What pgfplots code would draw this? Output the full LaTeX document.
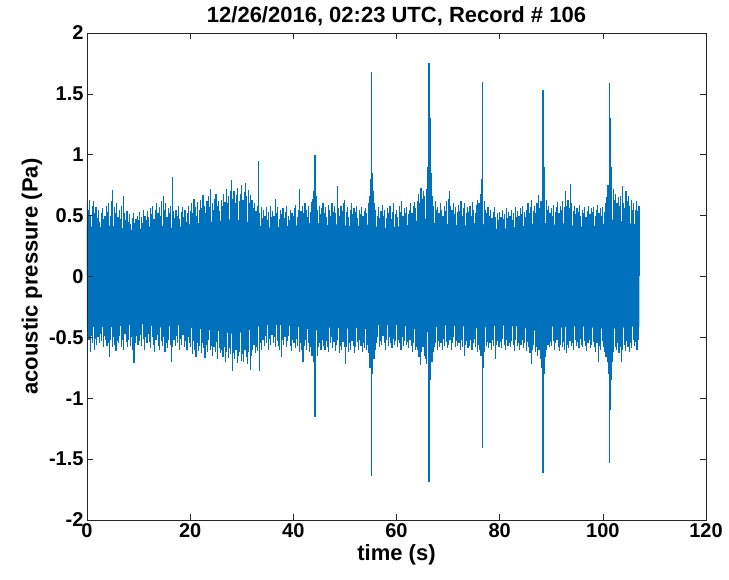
\documentclass[border=0pt]{standalone}
\usepackage{pgfplots}
\pgfplotsset{compat=1.18}
\usepackage{fontspec}
\setmainfont{Liberation Sans}
\definecolor{mblue}{rgb}{0,0.447,0.741}
\definecolor{axgray}{rgb}{0.15,0.15,0.15}
\begin{document}
\begin{tikzpicture}
\path[use as bounding box] (-87pt,-60pt) rectangle (642pt,520pt);
\begin{axis}[
  at={(0pt,0pt)}, anchor=south west,
  scale only axis, width=619pt, height=487pt,
  xmin=0, xmax=120, ymin=-2, ymax=2,
  xtick={0,20,...,120}, ytick={-2,-1.5,...,2},
  tick align=inside, major tick length=6pt,
  axis on top,
  axis line style={axgray, line width=0.6pt},
  every tick/.style={axgray, line width=0.6pt},
  /pgf/number format/assume math mode=true,
  tick label style={font=\fontsize{20}{20}\selectfont\bfseries, text=black},
  title={12/26/2016, 02:23 UTC, Record \# 106},
  title style={font=\fontsize{22}{22}\selectfont\bfseries, yshift=-2pt},
  xlabel={time (s)},
  ylabel={acoustic pressure (Pa)},
  label style={font=\fontsize{22}{22}\selectfont\bfseries},
]
% dense core of the noise band
\addplot[fill=mblue, draw=none] coordinates {
(0,.42)(2,.40)(4,.42)(6,.41)(8,.38)(10,.39)(12,.41)(14,.42)(16,.40)(18,.41)(20,.43)(22,.44)(24,.45)(26,.46)(28,.47)(30,.46)(32,.44)(34,.41)(36,.40)(38,.41)(40,.42)(42,.42)(44,.45)(46,.42)(48,.43)(50,.42)(52,.41)(54,.43)(56,.41)(58,.40)(60,.41)(62,.42)(64,.46)(66,.48)(68,.42)(70,.43)(72,.42)(74,.42)(76,.45)(78,.40)(80,.39)(82,.40)(84,.41)(86,.43)(88,.45)(90,.42)(92,.44)(94,.42)(96,.41)(98,.41)(100,.43)(102,.47)(104,.45)(106,.43)(107.1,.43)
(107.1,-.41)(106,-.41)(104,-.42)(102,-.43)(100,-.43)(98,-.42)(96,-.41)(94,-.41)(92,-.42)(90,-.41)(88,-.45)(86,-.44)(84,-.41)(82,-.41)(80,-.40)(78,-.41)(76,-.43)(74,-.41)(72,-.41)(70,-.40)(68,-.41)(66,-.46)(64,-.44)(62,-.41)(60,-.40)(58,-.40)(56,-.40)(54,-.43)(52,-.42)(50,-.43)(48,-.42)(46,-.42)(44,-.45)(42,-.42)(40,-.41)(38,-.40)(36,-.40)(34,-.40)(32,-.43)(30,-.46)(28,-.47)(26,-.45)(24,-.44)(22,-.43)(20,-.42)(18,-.40)(16,-.41)(14,-.42)(12,-.40)(10,-.39)(8,-.40)(6,-.41)(4,-.42)(2,-.41)(0,-.42)
};
% upper fringe
\addplot[ycomb, mblue, line width=1.15pt, no markers] coordinates {
(0,.61)(.25,.55)(.5,.63)(.75,.50)(1,.58)(1.25,.62)(1.5,.52)(1.75,.57)
(2,.48)(2.25,.55)(2.5,.45)(2.75,.52)(3,.56)(3.25,.47)(3.5,.50)(3.75,.58)
(4,.53)(4.25,.60)(4.5,.50)(4.75,.62)(5,.71)(5.25,.57)(5.5,.52)(5.75,.60)
(6,.49)(6.25,.55)(6.5,.47)(6.75,.58)(7,.66)(7.25,.52)(7.5,.46)(7.75,.54)
(8,.45)(8.25,.51)(8.5,.43)(8.75,.48)(9,.52)(9.25,.44)(9.5,.47)(9.75,.50)
(10,.46)(10.25,.53)(10.5,.49)(10.75,.44)(11,.55)(11.25,.50)(11.5,.46)(11.75,.54)
(12,.49)(12.25,.56)(12.5,.51)(12.75,.58)(13,.47)(13.25,.55)(13.5,.60)(13.75,.52)
(14,.57)(14.25,.50)(14.5,.62)(14.75,.66)(15,.55)(15.25,.60)(15.5,.49)(15.75,.56)
(16,.52)(16.25,.58)(16.5,.82)(16.75,.54)(17,.48)(17.25,.55)(17.5,.50)(17.75,.58)
(18,.47)(18.25,.53)(18.5,.57)(18.75,.49)(19,.55)(19.25,.45)(19.5,.52)(19.75,.58)
(20,.54)(20.25,.60)(20.5,.52)(20.75,.64)(21,.57)(21.25,.50)(21.5,.61)(21.75,.55)
(22,.63)(22.25,.56)(22.5,.67)(22.75,.58)(23,.52)(23.25,.62)(23.5,.66)(23.75,.57)
(24,.72)(24.25,.60)(24.5,.55)(24.75,.64)(25,.68)(25.25,.58)(25.5,.62)(25.75,.54)
(26,.63)(26.25,.58)(26.5,.68)(26.75,.61)(27,.72)(27.25,.60)(27.5,.66)(27.75,.70)
(28,.79)(28.25,.64)(28.5,.70)(28.75,.60)(29,.67)(29.25,.73)(29.5,.62)(29.75,.68)
(30,.75)(30.25,.63)(30.5,.69)(30.75,.77)(31,.66)(31.25,.71)(31.5,.60)(31.75,.67)
(32,.63)(32.25,.56)(32.5,.60)(32.75,.54)(33,.58)(33.25,.62)(33.5,.52)(33.75,.57)
(34,.48)(34.25,.55)(34.5,.50)(34.75,.57)(35,.46)(35.25,.53)(35.5,.58)(35.75,.49)
(36,.54)(36.25,.50)(36.5,.64)(36.75,.52)(37,.57)(37.25,.47)(37.5,.55)(37.75,.51)
(38,.56)(38.25,.48)(38.5,.53)(38.75,.58)(39,.50)(39.25,.46)(39.5,.55)(39.75,.52)
(40,.50)(40.25,.56)(40.5,.59)(40.75,.49)(41,.55)(41.25,.72)(41.5,.54)(41.75,.58)
(42,.52)(42.25,.60)(42.5,.55)(42.75,.49)(43,.58)(43.25,.53)(43.5,.61)(43.75,.64)
(44,.70)(44.25,.75)(44.5,.66)(44.75,.55)(45,.58)(45.25,.51)(45.5,.56)(45.75,.60)
(46,.52)(46.25,.57)(46.5,.49)(46.75,.59)(47,.55)(47.25,.50)(47.5,.60)(47.75,.53)
(48,.58)(48.25,.52)(48.5,.74)(48.75,.56)(49,.50)(49.25,.58)(49.5,.54)(49.75,.60)
(50,.63)(50.25,.53)(50.5,.57)(50.75,.49)(51,.55)(51.25,.60)(51.5,.51)(51.75,.56)
(52,.53)(52.25,.58)(52.5,.48)(52.75,.55)(53,.51)(53.25,.57)(53.5,.50)(53.75,.54)
(54,.56)(54.25,.52)(54.5,.60)(54.75,.66)(55,.80)(55.25,.85)(55.5,.70)(55.75,.60)
(56,.55)(56.25,.50)(56.5,.57)(56.75,.48)(57,.54)(57.25,.59)(57.5,.50)(57.75,.55)
(58,.48)(58.25,.56)(58.5,.52)(58.75,.58)(59,.47)(59.25,.53)(59.5,.60)(59.75,.51)
(60,.55)(60.25,.49)(60.5,.58)(60.75,.53)(61,.62)(61.25,.50)(61.5,.56)(61.75,.52)
(62,.57)(62.25,.51)(62.5,.55)(62.75,.60)(63,.52)(63.25,.58)(63.5,.61)(63.75,.56)
(64,.62)(64.25,.68)(64.5,.60)(64.75,.73)(65,.64)(65.25,.70)(65.5,.66)(65.75,.72)
(66,.90)(66.25,1.05)(66.5,1.30)(66.75,.85)(67,.66)(67.25,.58)(67.5,.62)(67.75,.55)
(68,.57)(68.25,.52)(68.5,.60)(68.75,.55)(69,.50)(69.25,.58)(69.5,.54)(69.75,.62)
(70,.64)(70.25,.70)(70.5,.58)(70.75,.55)(71,.60)(71.25,.51)(71.5,.57)(71.75,.53)
(72,.59)(72.25,.54)(72.5,.62)(72.75,.50)(73,.56)(73.25,.60)(73.5,.52)(73.75,.57)
(74,.53)(74.25,.58)(74.5,.50)(74.75,.61)(75,.55)(75.25,.52)(75.5,.59)(75.75,.63)
(76,.60)(76.25,.68)(76.5,.80)(76.75,.95)(77,.62)(77.25,.55)(77.5,.52)(77.75,.57)
(78,.50)(78.25,.55)(78.5,.48)(78.75,.53)(79,.57)(79.25,.49)(79.5,.52)(79.75,.46)
(80,.53)(80.25,.49)(80.5,.55)(80.75,.47)(81,.51)(81.25,.56)(81.5,.48)(81.75,.53)
(82,.50)(82.25,.55)(82.5,.46)(82.75,.52)(83,.57)(83.25,.49)(83.5,.54)(83.75,.50)
(84,.56)(84.25,.51)(84.5,.58)(84.75,.53)(85,.49)(85.25,.55)(85.5,.60)(85.75,.52)
(86,.57)(86.25,.63)(86.5,.54)(86.75,.58)(87,.52)(87.25,.60)(87.5,.67)(87.75,.56)
(88,.62)(88.25,.70)(88.5,.80)(88.75,.90)(89,.63)(89.25,.55)(89.5,.58)(89.75,.52)
(90,.56)(90.25,.50)(90.5,.59)(90.75,.53)(91,.57)(91.25,.61)(91.5,.52)(91.75,.58)
(92,.55)(92.25,.62)(92.5,.57)(92.75,.70)(93,.58)(93.25,.63)(93.5,.56)(93.75,.76)
(94,.60)(94.25,.54)(94.5,.58)(94.75,.51)(95,.56)(95.25,.53)(95.5,.59)(95.75,.50)
(96,.55)(96.25,.52)(96.5,.57)(96.75,.49)(97,.54)(97.25,.58)(97.5,.51)(97.75,.56)
(98,.53)(98.25,.57)(98.5,.50)(98.75,.55)(99,.59)(99.25,.52)(99.5,.56)(99.75,.50)
(100,.57)(100.25,.53)(100.5,.60)(100.75,.65)(101,.75)(101.25,.85)(101.5,1.30)(101.75,.90)
(102,.72)(102.25,.63)(102.5,.68)(102.75,.60)(103,.65)(103.25,.58)(103.5,.66)(103.75,.74)
(104,.60)(104.25,.56)(104.5,.70)(104.75,.62)(105,.66)(105.25,.58)(105.5,.63)(105.75,.55)
(106,.60)(106.25,.55)(106.5,.62)(106.75,.54)(107,.58)
};
% lower fringe
\addplot[ycomb, mblue, line width=1.15pt, no markers] coordinates {
(.125,-.58)(.375,-.52)(.625,-.62)(.875,-.49)(1.125,-.55)(1.375,-.60)(1.625,-.51)(1.875,-.56)
(2.125,-.50)(2.375,-.55)(2.625,-.47)(2.875,-.53)(3.125,-.58)(3.375,-.49)(3.625,-.52)(3.875,-.57)
(4.125,-.55)(4.375,-.66)(4.625,-.52)(4.875,-.58)(5.125,-.50)(5.375,-.56)(5.625,-.61)(5.875,-.53)
(6.125,-.55)(6.375,-.49)(6.625,-.58)(6.875,-.52)(7.125,-.60)(7.375,-.47)(7.625,-.54)(7.875,-.58)
(8.125,-.52)(8.375,-.57)(8.625,-.50)(8.875,-.60)(9.125,-.71)(9.375,-.55)(9.625,-.49)(9.875,-.56)
(10.125,-.53)(10.375,-.48)(10.625,-.57)(10.875,-.51)(11.125,-.60)(11.375,-.50)(11.625,-.55)(11.875,-.47)
(12.125,-.54)(12.375,-.59)(12.625,-.50)(12.875,-.56)(13.125,-.62)(13.375,-.52)(13.625,-.48)(13.875,-.57)
(14.125,-.60)(14.375,-.53)(14.625,-.57)(14.875,-.50)(15.125,-.62)(15.375,-.55)(15.625,-.59)(15.875,-.52)
(16.125,-.56)(16.375,-.70)(16.625,-.58)(16.875,-.52)(17.125,-.57)(17.375,-.49)(17.625,-.55)(17.875,-.60)
(18.125,-.51)(18.375,-.56)(18.625,-.48)(18.875,-.58)(19.125,-.53)(19.375,-.60)(19.625,-.50)(19.875,-.55)
(20.125,-.58)(20.375,-.64)(20.625,-.53)(20.875,-.60)(21.125,-.66)(21.375,-.55)(21.625,-.61)(21.875,-.57)
(22.125,-.63)(22.375,-.55)(22.625,-.59)(22.875,-.67)(23.125,-.56)(23.375,-.62)(23.625,-.52)(23.875,-.60)
(24.125,-.57)(24.375,-.65)(24.625,-.58)(24.875,-.62)(25.125,-.54)(25.375,-.68)(25.625,-.59)(25.875,-.63)
(26.125,-.60)(26.375,-.66)(26.625,-.58)(26.875,-.70)(27.125,-.62)(27.375,-.67)(27.625,-.59)(27.875,-.64)
(28.125,-.78)(28.375,-.63)(28.625,-.68)(28.875,-.60)(29.125,-.71)(29.375,-.65)(29.625,-.62)(29.875,-.69)
(30.125,-.64)(30.375,-.70)(30.625,-.60)(30.875,-.66)(31.125,-.72)(31.375,-.62)(31.625,-.77)(31.875,-.65)
(32.125,-.60)(32.375,-.56)(32.625,-.63)(32.875,-.58)(33.125,-.61)(33.375,-.78)(33.625,-.55)(33.875,-.60)
(34.125,-.52)(34.375,-.57)(34.625,-.49)(34.875,-.55)(35.125,-.60)(35.375,-.51)(35.625,-.56)(35.875,-.48)
(36.125,-.55)(36.375,-.50)(36.625,-.58)(36.875,-.53)(37.125,-.57)(37.375,-.60)(37.625,-.66)(37.875,-.52)
(38.125,-.56)(38.375,-.50)(38.625,-.58)(38.875,-.53)(39.125,-.49)(39.375,-.57)(39.625,-.61)(39.875,-.52)
(40.125,-.55)(40.375,-.59)(40.625,-.51)(40.875,-.57)(41.125,-.62)(41.375,-.55)(41.625,-.60)(41.875,-.70)
(42.125,-.57)(42.375,-.52)(42.625,-.60)(42.875,-.55)(43.125,-.62)(43.375,-.58)(43.625,-.65)(43.875,-.70)
(44.125,-.75)(44.375,-.80)(44.625,-.65)(44.875,-.58)(45.125,-.55)(45.375,-.60)(45.625,-.52)(45.875,-.57)
(46.125,-.60)(46.375,-.53)(46.625,-.58)(46.875,-.62)(47.125,-.55)(47.375,-.50)(47.625,-.59)(47.875,-.54)
(48.125,-.61)(48.375,-.56)(48.625,-.52)(48.875,-.63)(49.125,-.57)(49.375,-.60)(49.625,-.54)(49.875,-.58)
(50.125,-.72)(50.375,-.58)(50.625,-.62)(50.875,-.55)(51.125,-.60)(51.375,-.53)(51.625,-.57)(51.875,-.63)
(52.125,-.58)(52.375,-.54)(52.625,-.60)(52.875,-.52)(53.125,-.57)(53.375,-.62)(53.625,-.55)(53.875,-.59)
(54.125,-.60)(54.375,-.56)(54.625,-.63)(54.875,-.75)(55.125,-.90)(55.375,-.80)(55.625,-.68)(55.875,-.60)
(56.125,-.55)(56.375,-.50)(56.625,-.58)(56.875,-.53)(57.125,-.56)(57.375,-.49)(57.625,-.55)(57.875,-.60)
(58.125,-.52)(58.375,-.57)(58.625,-.50)(58.875,-.55)(59.125,-.59)(59.375,-.51)(59.625,-.56)(59.875,-.53)
(60.125,-.58)(60.375,-.52)(60.625,-.55)(60.875,-.60)(61.125,-.50)(61.375,-.57)(61.625,-.53)(61.875,-.56)
(62.125,-.54)(62.375,-.59)(62.625,-.52)(62.875,-.57)(63.125,-.62)(63.375,-.55)(63.625,-.60)(63.875,-.58)
(64.125,-.60)(64.375,-.66)(64.625,-.73)(64.875,-.62)(65.125,-.58)(65.375,-.65)(65.625,-.68)(65.875,-.72)
(66.125,-.95)(66.375,-1.10)(66.625,-.85)(66.875,-.70)(67.125,-.62)(67.375,-.58)(67.625,-.55)(67.875,-.60)
(68.125,-.53)(68.375,-.58)(68.625,-.55)(68.875,-.60)(69.125,-.51)(69.375,-.57)(69.625,-.54)(69.875,-.59)
(70.125,-.56)(70.375,-.52)(70.625,-.60)(70.875,-.55)(71.125,-.50)(71.375,-.58)(71.625,-.53)(71.875,-.57)
(72.125,-.55)(72.375,-.60)(72.625,-.52)(72.875,-.58)(73.125,-.65)(73.375,-.56)(73.625,-.53)(73.875,-.59)
(74.125,-.57)(74.375,-.52)(74.625,-.60)(74.875,-.55)(75.125,-.51)(75.375,-.58)(75.625,-.62)(75.875,-.56)
(76.125,-.60)(76.375,-.65)(76.625,-.85)(76.875,-.75)(77.125,-.62)(77.375,-.57)(77.625,-.54)(77.875,-.59)
(78.125,-.55)(78.375,-.60)(78.625,-.52)(78.875,-.57)(79.125,-.68)(79.375,-.56)(79.625,-.53)(79.875,-.58)
(80.125,-.54)(80.375,-.59)(80.625,-.51)(80.875,-.56)(81.125,-.60)(81.375,-.52)(81.625,-.57)(81.875,-.55)
(82.125,-.58)(82.375,-.53)(82.625,-.56)(82.875,-.61)(83.125,-.52)(83.375,-.57)(83.625,-.55)(83.875,-.60)
(84.125,-.56)(84.375,-.52)(84.625,-.59)(84.875,-.55)(85.125,-.61)(85.375,-.54)(85.625,-.58)(85.875,-.63)
(86.125,-.72)(86.375,-.60)(86.625,-.56)(86.875,-.62)(87.125,-.58)(87.375,-.65)(87.625,-.60)(87.875,-.68)
(88.125,-.75)(88.375,-.95)(88.625,-.80)(88.875,-.66)(89.125,-.60)(89.375,-.56)(89.625,-.58)(89.875,-.54)
(90.125,-.57)(90.375,-.53)(90.625,-.60)(90.875,-.55)(91.125,-.52)(91.375,-.58)(91.625,-.61)(91.875,-.56)
(92.125,-.58)(92.375,-.54)(92.625,-.60)(92.875,-.63)(93.125,-.56)(93.375,-.59)(93.625,-.53)(93.875,-.57)
(94.125,-.55)(94.375,-.60)(94.625,-.52)(94.875,-.57)(95.125,-.54)(95.375,-.59)(95.625,-.51)(95.875,-.56)
(96.125,-.58)(96.375,-.53)(96.625,-.57)(96.875,-.61)(97.125,-.55)(97.375,-.52)(97.625,-.59)(97.875,-.56)
(98.125,-.54)(98.375,-.58)(98.625,-.62)(98.875,-.55)(99.125,-.70)(99.375,-.57)(99.625,-.60)(99.875,-.53)
(100.125,-.58)(100.375,-.62)(100.625,-.66)(100.875,-.70)(101.125,-.80)(101.375,-1.05)(101.625,-.85)(101.875,-.70)
(102.125,-.62)(102.375,-.58)(102.625,-.60)(102.875,-.55)(103.125,-.63)(103.375,-.58)(103.625,-.70)(103.875,-.60)
(104.125,-.56)(104.375,-.61)(104.625,-.53)(104.875,-.58)(105.125,-.62)(105.375,-.55)(105.625,-.59)(105.875,-.52)
(106.125,-.57)(106.375,-.54)(106.625,-.60)(106.875,-.52)
};
% spikes
\addplot[ycomb, mblue, line width=1.2pt, no markers] coordinates {
(33.3,.95)(44.2,1.0)(55.1,1.68)(55.2,1.2)(66.3,1.75)(76.6,1.6)(88.4,1.53)(101.3,1.59)
(44.2,-1.15)(44.3,-.95)(55.1,-1.64)(55.2,-1.2)(66.3,-1.69)(66.4,-1.3)(76.6,-1.41)(76.7,-1.0)(88.4,-1.61)(88.5,-1.2)(101.3,-1.53)(101.4,-1.1)
};
\end{axis}
\end{tikzpicture}
\end{document}
